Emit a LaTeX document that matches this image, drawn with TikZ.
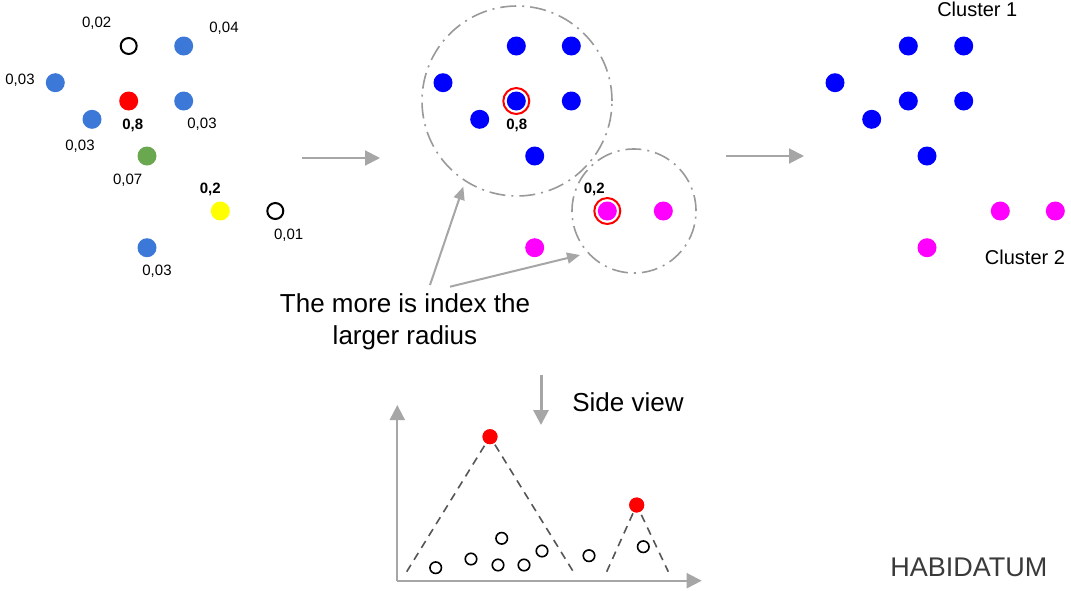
\documentclass[tikz,border=0pt]{standalone}
\usepackage{fontspec}
\setmainfont{Liberation Sans}
\usetikzlibrary{arrows.meta}
\definecolor{lblue}{HTML}{3C78D8}
\definecolor{lgreen}{HTML}{6AA84F}
\definecolor{lyellow}{HTML}{FFFF00}
\definecolor{lred}{HTML}{FF0000}
\definecolor{cblue}{HTML}{0000FF}
\definecolor{cmag}{HTML}{FF00FF}
\definecolor{arrgray}{HTML}{A6A6A6}
\definecolor{circgray}{HTML}{999999}
\definecolor{dashgray}{HTML}{555555}
\definecolor{logogray}{HTML}{3A3A3A}
\tikzset{
  dot/.style={circle, fill=#1, minimum size=19pt, inner sep=0pt},
  odot/.style={circle, draw=black, line width=2pt, fill=white, minimum size=16pt, inner sep=0pt},
  sdot/.style={circle, draw=black, line width=1.6pt, fill=white, minimum size=11.5pt, inner sep=0pt},
  rdot/.style={circle, fill=lred, minimum size=15pt, inner sep=0pt},
  ring/.style={circle, draw=lred, line width=2pt, minimum size=26pt, inner sep=0pt},
  lab/.style={font=\fontsize{15}{18}\selectfont, inner sep=0pt},
  blab/.style={font=\fontsize{15}{18}\selectfont\bfseries, inner sep=0pt},
  big/.style={font=\fontsize{26}{31}\selectfont, inner sep=0pt},
  clab/.style={font=\fontsize{20}{24}\selectfont, inner sep=0pt},
  flowarrow/.style={draw=arrgray, line width=2pt, -{Triangle[length=15pt,width=15pt]}, arrgray},
  notearrow/.style={draw=arrgray, line width=2pt, -{Triangle[length=13pt,width=11pt]}, arrgray},
  radcirc/.style={circle, draw=circgray, line width=1.6pt, dash pattern=on 16pt off 6pt on 2pt off 6pt, inner sep=0pt},
  peak/.style={draw=dashgray, line width=1.6pt, dash pattern=on 8pt off 6pt},
}
\begin{document}
\begin{tikzpicture}[x=1pt,y=-1pt]
\useasboundingbox[fill=white] (0,0) rectangle (1071,590);

% ---------- left group ----------
\node[odot] (L1) at (128.7,46) {};
\node[dot=lblue] (L2) at (183.7,46) {};
\node[dot=lblue] (L3) at (55.3,82.7) {};
\node[dot=lred] (L4) at (128.7,101) {};
\node[dot=lblue] (L5) at (183.7,101) {};
\node[dot=lblue] (L6) at (92,119.3) {};
\node[dot=lgreen] (L7) at (147,156) {};
\node[dot=lyellow] (L8) at (220.3,211) {};
\node[odot] (L9) at (275.3,211) {};
\node[dot=lblue] (L10) at (147,247.7) {};

\node[lab] (t1) at (96.7,23) {0,02};
\node[lab] (t2) at (224,28) {0,04};
\node[lab] (t3) at (20,80) {0,03};
\node[blab] (t4) at (132.7,125.3) {0,8};
\node[lab] (t5) at (202,124.7) {0,03};
\node[lab] (t6) at (80,146.7) {0,03};
\node[lab] (t7) at (127.7,180) {0,07};
\node[blab] (t8) at (210.3,189.3) {0,2};
\node[lab] (t9) at (288.7,235) {0,01};
\node[lab] (t10) at (157,271.7) {0,03};

% ---------- arrows between groups ----------
\coordinate (a1s) at (302,158);
\coordinate (a1e) at (380,158);
\draw[flowarrow] (a1s) -- (a1e);
\coordinate (a2s) at (726,156);
\coordinate (a2e) at (804,156);
\draw[flowarrow] (a2s) -- (a2e);

% ---------- middle group ----------
\node[radcirc, minimum size=190pt] (bigc) at (517,101) {};
\node[radcirc, minimum size=124pt] (smallc) at (634,211) {};

\node[dot=cblue] (M1) at (516.3,46) {};
\node[dot=cblue] (M2) at (571.3,46) {};
\node[dot=cblue] (M3) at (443,82.7) {};
\node[dot=cblue] (M4) at (516.3,101) {};
\node[ring] (R1) at (516.3,101) {};
\node[dot=cblue] (M5) at (571.3,101) {};
\node[dot=cblue] (M6) at (479.7,119.3) {};
\node[dot=cblue] (M7) at (534.7,156) {};
\node[dot=cmag] (M8) at (607.3,211) {};
\node[ring] (R2) at (607.3,211) {};
\node[dot=cmag] (M9) at (663.3,211) {};
\node[dot=cmag] (M10) at (534.7,247.7) {};
\node[blab] (mt1) at (516.7,125) {0,8};
\node[blab] (mt2) at (594.3,189) {0,2};

\node[big, align=center] (note) at (405,322) {The more is index the\\[1pt]larger radius};
\coordinate (n1s) at (430,285);
\coordinate (n1e) at (463.3,186.7);
\coordinate (n2s) at (450,286.7);
\coordinate (n2e) at (580,255);
\draw[notearrow] (n1s) -- (n1e);
\draw[notearrow] (n2s) -- (n2e);

% ---------- right group ----------
\node[dot=cblue] (C1) at (908.3,46) {};
\node[dot=cblue] (C2) at (963.7,46) {};
\node[dot=cblue] (C3) at (835,82.7) {};
\node[dot=cblue] (C4) at (908.3,101) {};
\node[dot=cblue] (C5) at (963.7,101) {};
\node[dot=cblue] (C6) at (871.7,119.3) {};
\node[dot=cblue] (C7) at (927,156) {};
\node[dot=cmag] (C8) at (1000.3,211) {};
\node[dot=cmag] (C9) at (1055.3,211) {};
\node[dot=cmag] (C10) at (927,247.7) {};
\node[clab] (cl1) at (977.3,9) {Cluster 1};
\node[clab] (cl2) at (1025,257.3) {Cluster 2};

% ---------- side view ----------
\coordinate (d1s) at (541,375);
\coordinate (d1e) at (541,425);
\draw[flowarrow, line width=3pt] (d1s) -- (d1e);
\node[big] (sv) at (628,401.7) {Side view};

\coordinate (org) at (397.3,580.7);
\coordinate (ytip) at (397.3,405);
\coordinate (xtip) at (701.7,580.7);
\draw[flowarrow] (org) -- (ytip);
\draw[flowarrow] (org) -- (xtip);

\coordinate (b1) at (406.7,571.7);
\coordinate (b2) at (573.3,571.7);
\coordinate (b3) at (606.7,571.7);
\coordinate (b4) at (668.3,571.7);
\node[rdot] (P1) at (490,436.7) {};
\node[rdot] (P2) at (636.7,505) {};
\draw[peak] (b1) -- (P1.center) -- (b2);
\draw[peak] (b3) -- (P2.center) -- (b4);
\node[rdot] at (P1) {};
\node[rdot] at (P2) {};

\node[sdot] (S1) at (435.7,567.7) {};
\node[sdot] (S2) at (471,559) {};
\node[sdot] (S3) at (501.7,538.3) {};
\node[sdot] (S4) at (498,565) {};
\node[sdot] (S5) at (524,565) {};
\node[sdot] (S6) at (542,551) {};
\node[sdot] (S7) at (589,555.7) {};
\node[sdot] (S8) at (643.3,546.7) {};

\node[font=\fontsize{27}{30}\selectfont, text=logogray, inner sep=0pt] (logo) at (968.8,567.3) {HABIDATUM};
\end{tikzpicture}
\end{document}
